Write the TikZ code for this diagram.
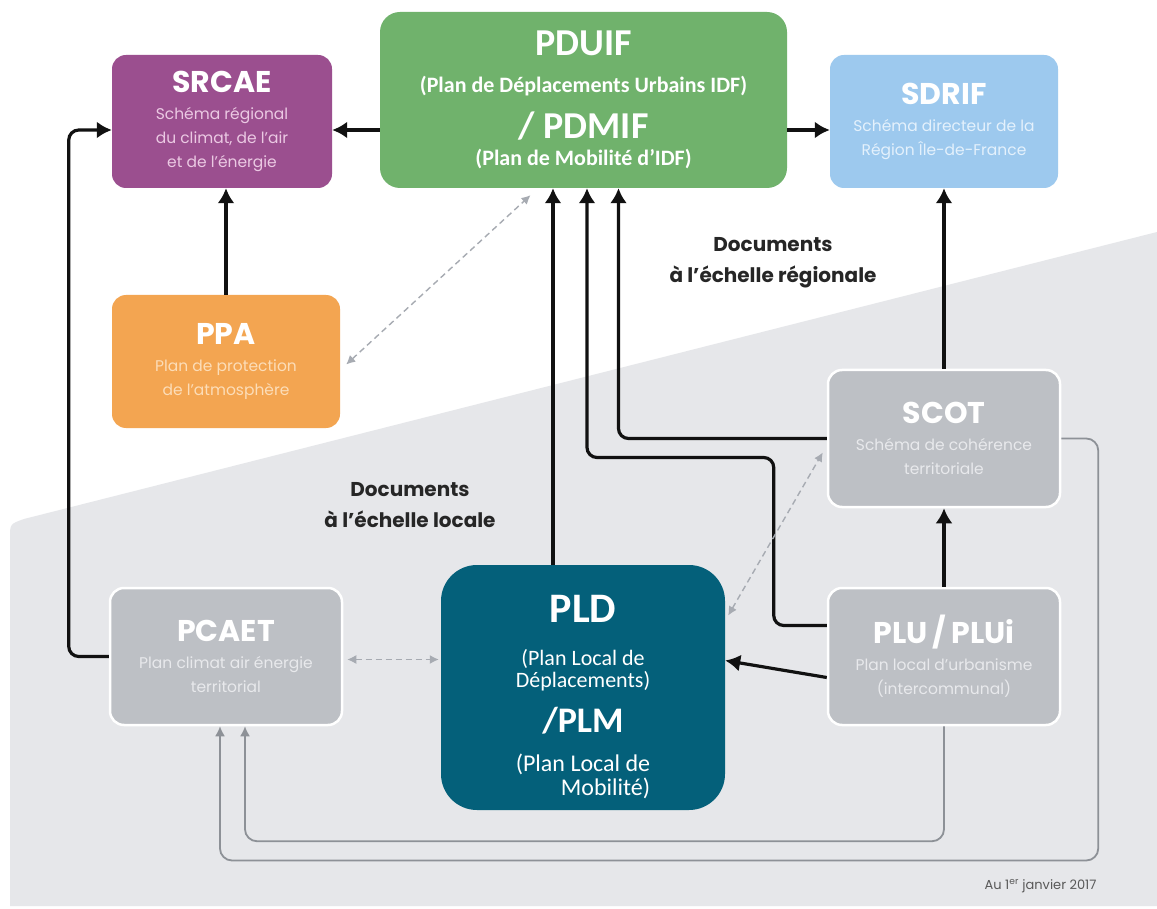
\documentclass[tikz,border=0pt]{standalone}
\usepackage{fontspec}
\setmainfont{Carlito}
\newfontfamily\geo{Poppins}
\usetikzlibrary{arrows.meta, calc}
\definecolor{srcae}{HTML}{9B4F8F}
\definecolor{srcaetxt}{HTML}{EBC9E3}
\definecolor{pduif}{HTML}{70B26C}
\definecolor{sdrif}{HTML}{9DC9EE}
\definecolor{sdriftxt}{HTML}{E4F1FC}
\definecolor{ppa}{HTML}{F3A551}
\definecolor{ppatxt}{HTML}{FCDDB8}
\definecolor{grey}{HTML}{BDC0C5}
\definecolor{greytxt}{HTML}{E8E9EC}
\definecolor{pld}{HTML}{04607A}
\definecolor{bgrey}{HTML}{E6E7EA}
\definecolor{agrey}{HTML}{8D9197}
\definecolor{dgrey}{HTML}{A7ABB2}
\definecolor{ink}{HTML}{111111}
\newcommand{\ttl}[1]{{\color{white}\geo\bfseries\fontsize{30}{24}\selectfont #1}}
\tikzset{
  doc/.style={rounded corners=14pt, align=center, inner sep=0pt, font=\geo\fontsize{15.5}{24}\selectfont},
  dp/.style={doc, fill=srcae, text=srcaetxt},
  db/.style={doc, fill=sdrif, text=sdriftxt},
  dor/.style={doc, fill=ppa, text=ppatxt},
  dk/.style={doc, fill=grey, text=greytxt, draw=white, line width=2.5pt},
  a/.style={-{Latex[length=15pt,width=17pt]}, draw=ink, line width=3.2pt, rounded corners=10pt},
  ag/.style={-{Latex[length=10pt,width=10pt]}, draw=agrey, line width=1.8pt, rounded corners=12pt},
  ad/.style={{Latex[length=9pt,width=9pt]}-{Latex[length=9pt,width=9pt]}, draw=dgrey, line width=1.4pt, dash pattern=on 6pt off 4pt},
  lbl/.style={font=\geo\bfseries\fontsize{20}{31}\selectfont, align=center, text=black!85},
}
\begin{document}
\begin{tikzpicture}[x=1pt, y=-1pt]
\useasboundingbox (0,0) rectangle (1157,909);
\fill[white] (0,0) rectangle (1157,909);
% local area
\fill[bgrey] (10,906) -- (10,538) .. controls (10,524) .. (24,519) -- (1157,232) -- (1157,906) -- cycle;

\node[dp, minimum width=220pt, minimum height=133pt] (srcae) at (222,121.5) {\ttl{SRCAE}\\[3pt]Schéma régional\\du climat, de l’air\\et de l’énergie};
\node[doc, fill=pduif, text=white, font=\bfseries\fontsize{22}{40}\selectfont, rounded corners=20pt, minimum width=407pt, minimum height=176pt] (pduif) at (583.5,100)
  {{\fontsize{38}{40}\selectfont PDUIF}\\[-3pt](Plan de Déplacements Urbains IDF)\\[6pt]{\fontsize{38}{40}\selectfont / PDMIF}\\[-13pt](Plan de Mobilité d’IDF)};
\node[db, minimum width=228pt, minimum height=133pt] (sdrif) at (944,121.5) {\ttl{SDRIF}\\[3pt]Schéma directeur de la\\Région Île-de-France};
\node[dor, minimum width=228pt, minimum height=133pt] (ppa) at (226,361.5) {\ttl{PPA}\\[3pt]Plan de protection\\de l’atmosphère};
\node[dk, minimum width=232pt, minimum height=137pt] (scot) at (944,438.5) {\ttl{SCOT}\\[3pt]Schéma de cohérence\\territoriale};
\node[dk, minimum width=232pt, minimum height=137pt] (pcaet) at (226,656.5) {\ttl{PCAET}\\[3pt]Plan climat air énergie\\territorial};
\node[dk, minimum width=232pt, minimum height=137pt] (plu) at (944,656.5) {\ttl{PLU\,/\,PLUi}\\[3pt]Plan local d’urbanisme\\(intercommunal)};
\node[doc, fill=pld, text=white, font=\fontsize{22}{40}\selectfont, rounded corners=36pt, minimum width=284pt, minimum height=245pt] (pld) at (583,687.5)
  {\rule{0pt}{50pt}{\bfseries\fontsize{42}{40}\selectfont PLD}\\[3pt](Plan Local de\\[-18pt]Déplacements)\\[5pt]{\bfseries\fontsize{36}{40}\selectfont /PLM}\\[-1pt]{\fontsize{24}{21}\selectfont\begin{tabular}[t]{@{}r@{}}(Plan Local de\\Mobilité)\end{tabular}}};

\node[lbl] (regl) at (773,263) {Documents\\à l’échelle régionale};
\node[lbl] (locl) at (410,505) {Documents\\à l’échelle locale};
\node[font=\geo\fontsize{13}{15}\selectfont, text=black!65, anchor=east] (date) at (1100,886) {Au 1\textsuperscript{er} janvier 2017};

% regional links
\draw[a] (pduif.west |- 0,130) -- (srcae.east |- 0,130);
\draw[a] (pduif.east |- 0,130) -- (sdrif.west |- 0,130);
\draw[a] (ppa.north) -- (ppa.north |- srcae.south);
\draw[a] (scot.north) -- (sdrif.south);
\draw[a] (plu.north) -- (scot.south);
\draw[a] (pcaet.west) -- ++(-40,0) |- (srcae.west |- 0,130);
% towards the PDUIF
\draw[a] ([xshift=-30pt]pld.north) -- ([xshift=-30pt]pld.north |- pduif.south);
\draw[a] ([yshift=31pt]plu.west) -- ++(-53,0) -- ++(0,-168) -| ([xshift=3.5pt]pduif.south);
\draw[a] (scot.west) -| ([xshift=35pt]pduif.south);
\draw[a] ([yshift=-21pt]plu.west) -- ([yshift=27pt]pld.east);
% dashed links
\draw[ad] ([xshift=6pt,yshift=-3pt]ppa.east) -- ([xshift=-53pt,yshift=-7pt]pduif.south);
\draw[ad] ([xshift=3pt,yshift=72pt]pld.east) -- ([xshift=-4pt,yshift=-14pt]scot.west);
\draw[ad, shorten <=4pt, shorten >=2pt] ([yshift=-3pt]pcaet.east) -- ([yshift=-3pt]pcaet.east -| pld.west);
% grey returns
\draw[ag] (plu.south) -- ++(0,115) -| ([xshift=19pt]pcaet.south);
\draw[ag] (scot.east) -- ++(37,0) -- ++(0,422) -| ([xshift=-6pt]pcaet.south);
\end{tikzpicture}
\end{document}
